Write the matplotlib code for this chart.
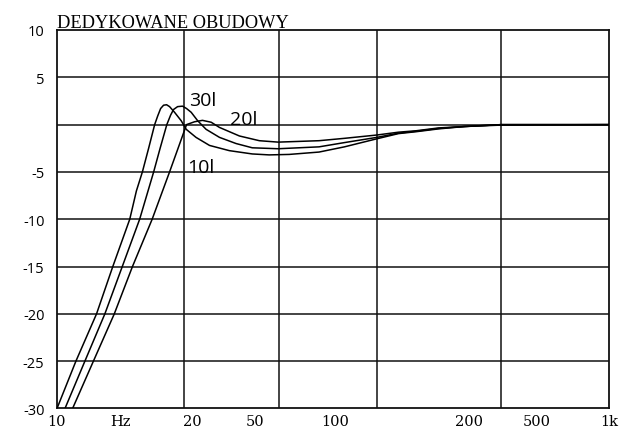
import matplotlib
matplotlib.use("Agg")
import matplotlib.pyplot as plt

# frequency response of the three enclosures (Hz, dB)
freq_30l = [10.0, 11.71, 13.91, 15.93, 18.35, 19.40, 20.39, 21.48, 22.59, 23.16, 23.74, 24.33,
            24.95, 25.58, 26.67, 28.2, 29.4, 31.9, 35.7, 42.1, 51.0, 58.7, 69.4, 89.0, 110.0,
            144.1, 172.7, 200.0, 241.4, 300.0, 407.5, 1000]
db_30l = [-30, -25, -20, -15, -10, -7, -5, -2.5, 0, 0.9, 1.7, 2.05,
          2.1, 1.9, 1.3, 0.4, -0.5, -1.35, -2.2, -2.75, -3.1, -3.2, -3.15, -2.9, -2.35,
          -1.5, -0.95, -0.75, -0.45, -0.2, -0.05, 0]

freq_20l = [10.69, 12.62, 14.91, 17.24, 19.93, 22.40, 23.64, 25.0, 25.8, 26.45, 27.35, 28.5,
            29.47, 30.64, 32.36, 34.7, 38.8, 44.55, 51.0, 63.3, 89.0, 110.0, 144.1, 172.7,
            200.0, 241.4, 300.0, 407.5, 1000]
db_20l = [-30, -25, -20, -15, -10, -5, -2.5, 0, 1.0, 1.6, 1.9, 1.95,
          1.7, 1.3, 0.4, -0.5, -1.35, -2.0, -2.45, -2.55, -2.35, -1.9, -1.35, -0.9,
          -0.7, -0.4, -0.2, 0, 0]

freq_10l = [11.39, 13.55, 16.13, 18.77, 22.12, 25.58, 27.46, 29.47, 31.5, 33.66, 36.2, 38.8,
            45.8, 54.1, 63.3, 89.0, 110.0, 144.1, 172.7, 200.0, 241.4, 300.0, 407.5, 1000]
db_10l = [-30, -25, -20, -15, -10, -5, -2.5, 0, 0.3, 0.45, 0.25, -0.3,
          -1.2, -1.7, -1.85, -1.7, -1.45, -1.1, -0.8, -0.65, -0.35, -0.2, 0, 0]

# x labels sit at odd places on the original scan
xtick_pos = [10, 17.0, 30.85, 52.3, 102.1, 312, 545, 1000]
xtick_labels = ["10", "Hz", "20", "50", "100", "200", "500", "1k"]
xgrid_pos = [28.74, 63.8, 144.2, 407.5]

ytick_vals = [10, 5, -5, -10, -15, -20, -25, -30]
ygrid_vals = [5, 0, -5, -10, -15, -20, -25]

curve_labels = [("30l", 30.0, 2.07), ("20l", 42.5, 0.06), ("10l", 29.7, -4.98)]

fig = plt.figure(figsize=(6.2, 4.31), dpi=100)
ax = fig.add_axes([0.0919, 0.0499, 0.8904, 0.8782])

for x in xgrid_pos:
    ax.axvline(x, color="#111111", linewidth=1.1, zorder=1)
for y in ygrid_vals:
    ax.axhline(y, color="#111111", linewidth=1.1, zorder=1)

for f, d in [(freq_30l, db_30l), (freq_20l, db_20l), (freq_10l, db_10l)]:
    ax.plot(f, d, color="black", linewidth=1.1, zorder=3)

for txt, x, y in curve_labels:
    ax.text(x, y, txt, fontsize=14, family="Open Sans", va="baseline", ha="left", zorder=4)

ax.set_xscale("log")
ax.set_xlim(10, 1000)
ax.set_ylim(-30, 10)
ax.minorticks_off()
ax.set_xticks(xtick_pos)
ax.set_xticklabels(xtick_labels, family="DejaVu Serif", fontsize=10.5)
ax.set_yticks(ytick_vals)
ax.set_yticklabels([str(v) for v in ytick_vals], family="Open Sans", fontsize=10.5)
ax.tick_params(axis="x", length=0, pad=4)
ax.tick_params(axis="y", length=0, pad=9)
for lbl in ax.get_yticklabels():
    lbl.set_verticalalignment("center_baseline")
for s in ax.spines.values():
    s.set_linewidth(1.3)
    s.set_color("#111111")

ax.annotate("DEDYKOWANE OBUDOWY", xy=(0, 1), xycoords="axes fraction", xytext=(0, 2.5),
            textcoords="offset points", family="Liberation Serif", fontsize=13.2,
            va="baseline", ha="left")

fig.savefig("out.png", dpi=100)
